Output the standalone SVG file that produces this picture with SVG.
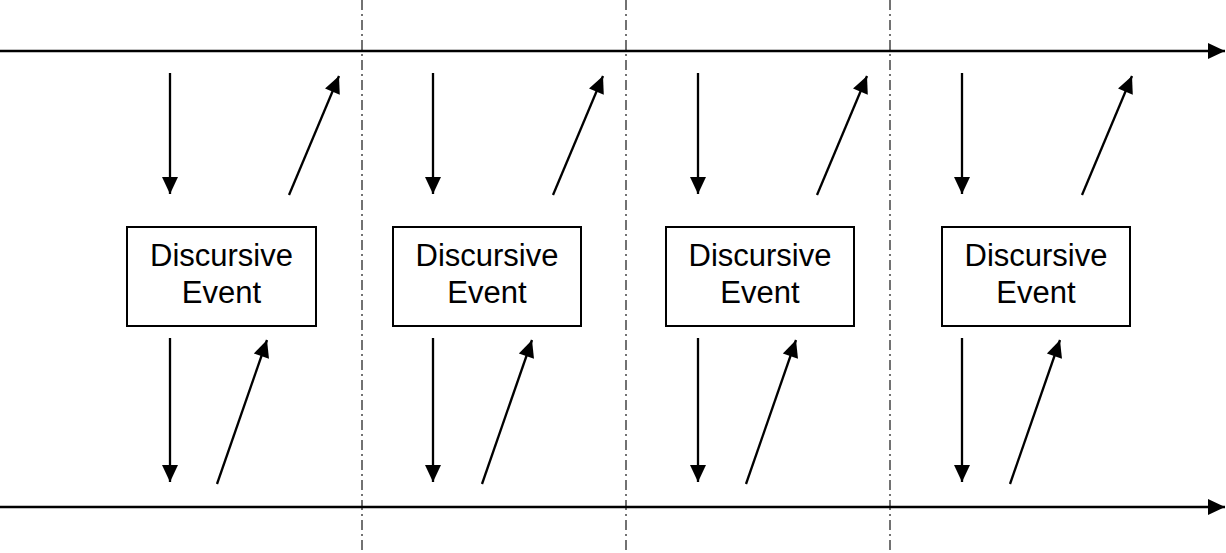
<svg xmlns="http://www.w3.org/2000/svg" width="1226" height="553" viewBox="0 0 1226 553">
<style>
.sep{stroke:#444;stroke-width:1.5;stroke-dasharray:10,4,2,4;fill:none}
.ln{stroke:#000;stroke-width:2.3;fill:none;marker-end:url(#ah)}
.box{fill:#fff;stroke:#000;stroke-width:2}
.t{font-family:"Liberation Sans",Arial,sans-serif;font-size:31px;fill:#000;text-anchor:middle}
</style>
<defs>
<marker id="ah" markerUnits="userSpaceOnUse" markerWidth="20" markerHeight="20" refX="17" refY="8" orient="auto" overflow="visible">
<path d="M0,0 L17,8 L0,16 z" fill="#000"/>
</marker>
</defs>
<g id="separators">
<line class="sep" x1="362" y1="0" x2="362" y2="553"/>
<line class="sep" x1="626" y1="0" x2="626" y2="553"/>
<line class="sep" x1="890" y1="0" x2="890" y2="553"/>
</g>
<g id="connectors">
<line class="ln" x1="0" y1="51" x2="1225" y2="51"/>
<line class="ln" x1="0" y1="507" x2="1225" y2="507"/>
<line class="ln" x1="170" y1="73" x2="170" y2="194"/>
<line class="ln" x1="289" y1="195" x2="339" y2="76"/>
<line class="ln" x1="170" y1="338" x2="170" y2="482"/>
<line class="ln" x1="217" y1="484" x2="267" y2="340"/>
<line class="ln" x1="433" y1="73" x2="433" y2="194"/>
<line class="ln" x1="553" y1="195" x2="603" y2="76"/>
<line class="ln" x1="433" y1="338" x2="433" y2="482"/>
<line class="ln" x1="482" y1="484" x2="532" y2="340"/>
<line class="ln" x1="698" y1="73" x2="698" y2="194"/>
<line class="ln" x1="817" y1="195" x2="867" y2="76"/>
<line class="ln" x1="698" y1="338" x2="698" y2="482"/>
<line class="ln" x1="746" y1="484" x2="796" y2="340"/>
<line class="ln" x1="962" y1="73" x2="962" y2="194"/>
<line class="ln" x1="1082" y1="195" x2="1132" y2="76"/>
<line class="ln" x1="962" y1="338" x2="962" y2="482"/>
<line class="ln" x1="1010" y1="484" x2="1060" y2="340"/>
</g>
<g id="event1">
<rect class="box" x="127" y="227" width="189" height="99"/>
<text class="t" x="221.5" y="266">Discursive</text>
<text class="t" x="221.5" y="303">Event</text>
</g>
<g id="event2">
<rect class="box" x="393" y="227" width="188" height="99"/>
<text class="t" x="487" y="266">Discursive</text>
<text class="t" x="487" y="303">Event</text>
</g>
<g id="event3">
<rect class="box" x="666" y="227" width="188" height="99"/>
<text class="t" x="760" y="266">Discursive</text>
<text class="t" x="760" y="303">Event</text>
</g>
<g id="event4">
<rect class="box" x="942" y="227" width="188" height="99"/>
<text class="t" x="1036" y="266">Discursive</text>
<text class="t" x="1036" y="303">Event</text>
</g>
</svg>
